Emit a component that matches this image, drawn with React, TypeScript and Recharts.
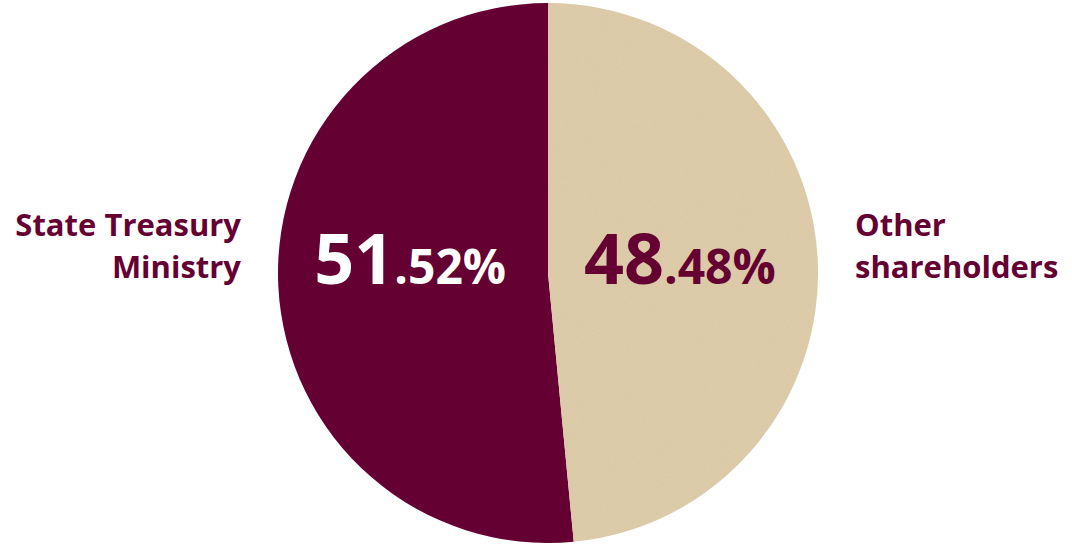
import React from 'react';
import { PieChart, Pie, Cell } from 'recharts';

const categories = ['State Treasury Ministry', 'Other shareholders'];
const labelLines = [['State Treasury', 'Ministry'], ['Other', 'shareholders']];
const values = [51.52, 48.48];
const colors = ['#650032', '#dfcdab'];
const bigTextColors = ['#ffffff', '#650032'];

const data = categories.map((name, i) => ({ name, value: values[i] }));

if (typeof document !== 'undefined') {
  document.body.style.margin = '0';
}

const RAD = Math.PI / 180;
const FONT = '"Open Sans", "DejaVu Sans", sans-serif';

const renderLabel = (props: any) => {
  const { cx, cy, midAngle, outerRadius, index, value } = props;
  const cos = Math.cos(-midAngle * RAD);
  const inner = outerRadius * 0.5;
  const ix = cx + inner * cos - 3;
  const [intPart, decPart] = value.toFixed(2).split('.');
  const right = cos > 0;
  const ox = cx + (outerRadius + 37) * (right ? 1 : -1);
  const lines = labelLines[index];
  return (
    <g>
      <text
        x={ix}
        y={cy + 11}
        textAnchor="middle"
        fill={bigTextColors[index]}
        fontFamily={FONT}
        fontWeight={700}
      >
        <tspan fontSize={70}>{intPart}</tspan>
        <tspan fontSize={48}>{'.' + decPart + '%'}</tspan>
      </text>
      <text
        x={ox}
        y={cy - 37}
        textAnchor={right ? 'start' : 'end'}
        fill="#650032"
        fontFamily={FONT}
        fontWeight={700}
        fontSize={31}
      >
        <tspan x={ox} dy={0}>{lines[0]}</tspan>
        <tspan x={ox} dy={42}>{lines[1]}</tspan>
      </text>
    </g>
  );
};

export default function App() {
  return (
    <div style={{ width: 1072, height: 544, background: '#ffffff' }}>
      <PieChart width={1072} height={544} margin={{ top: 0, right: 0, bottom: 0, left: 0 }}>
        <defs>
          <filter id="paper" x="0" y="0" width="100%" height="100%">
            <feTurbulence type="fractalNoise" baseFrequency="0.9" numOctaves="2" seed="3" result="noise" />
            <feColorMatrix
              in="noise"
              type="matrix"
              values="0 0 0 0 0.55  0 0 0 0 0.45  0 0 0 0 0.3  0 0 0 0.35 -0.05"
              result="tint"
            />
            <feComposite in="tint" in2="SourceGraphic" operator="in" result="grain" />
            <feMerge>
              <feMergeNode in="SourceGraphic" />
              <feMergeNode in="grain" />
            </feMerge>
          </filter>
        </defs>
        <Pie
          data={data}
          dataKey="value"
          nameKey="name"
          cx={548}
          cy={273}
          outerRadius={270}
          startAngle={90}
          endAngle={450}
          stroke="none"
          labelLine={false}
          label={renderLabel}
          isAnimationActive={false}
        >
          {data.map((d, i) => (
            <Cell key={d.name} fill={colors[i]} filter={i === 1 ? 'url(#paper)' : undefined} />
          ))}
        </Pie>
      </PieChart>
    </div>
  );
}
